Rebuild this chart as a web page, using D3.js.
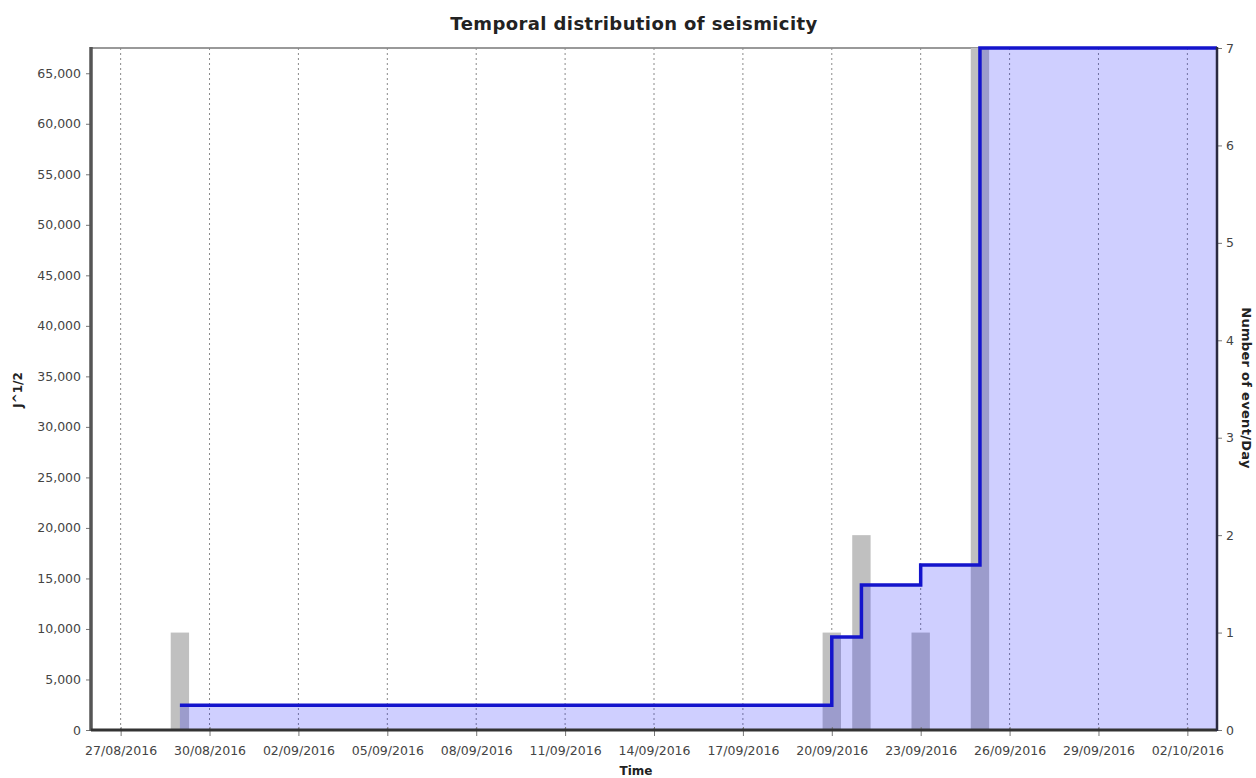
<!DOCTYPE html>
<html>
<head>
<meta charset="utf-8">
<script src="https://cdn.jsdelivr.net/npm/d3@7"></script>
<style>
  html, body { margin: 0; padding: 0; background: #fff; }
  svg { display: block; }
  text { font-family: "DejaVu Sans", sans-serif; }
</style>
</head>
<body>
<svg id="chart" width="1256" height="778"></svg>
<script>
// ---- data ----
const eventDates = ["29/08/2016", "20/09/2016", "21/09/2016", "23/09/2016", "25/09/2016"];
const eventsPerDay = [1, 1, 2, 1, 7];
const cumulativeStrain = [2450, 9200, 14350, 16330, 67500];
const xTickLabels = ["27/08/2016", "30/08/2016", "02/09/2016", "05/09/2016", "08/09/2016",
  "11/09/2016", "14/09/2016", "17/09/2016", "20/09/2016", "23/09/2016", "26/09/2016",
  "29/09/2016", "02/10/2016"];
const xDomainLabels = ["26/08/2016", "03/10/2016"];
const leftTicks = [0, 5000, 10000, 15000, 20000, 25000, 30000, 35000, 40000, 45000, 50000, 55000, 60000, 65000];
const rightTicks = [0, 1, 2, 3, 4, 5, 6, 7];

const parse = d3.timeParse("%d/%m/%Y");
const svg = d3.select("#chart");
const m = { left: 91, right: 1217, top: 48, bottom: 730 };

const x = d3.scaleTime().domain(xDomainLabels.map(parse)).range([m.left, m.right]);
const yL = d3.scaleLinear().domain([0, d3.max(cumulativeStrain)]).range([m.bottom, m.top]);
const yR = d3.scaleLinear().domain([0, d3.max(eventsPerDay)]).range([m.bottom, m.top]);

const dayMs = 864e5;
const events = eventDates.map((d, i) => ({ date: parse(d), n: eventsPerDay[i], s: cumulativeStrain[i] }));

// plot frame (top border)
svg.append("line").attr("x1", m.left).attr("x2", m.right).attr("y1", m.top).attr("y2", m.top)
  .attr("stroke", "#999").attr("stroke-width", 2);

// vertical gridlines
const xTicks = xTickLabels.map(parse);
svg.append("g").selectAll("line").data(xTicks).join("line")
  .attr("x1", d => x(d)).attr("x2", d => x(d))
  .attr("y1", m.top).attr("y2", m.bottom)
  .attr("stroke", "#8a8a8a").attr("stroke-width", 1).attr("stroke-dasharray", "2,3");

// bars (events per day)
svg.append("g").selectAll("rect").data(events).join("rect")
  .attr("x", d => x(new Date(+d.date - 0.31 * dayMs)))
  .attr("width", d => x(new Date(+d.date + 0.31 * dayMs)) - x(new Date(+d.date - 0.31 * dayMs)))
  .attr("y", d => yR(d.n))
  .attr("height", d => yR(0) - yR(d.n))
  .attr("fill", "#c0c0c0");

// cumulative strain (step)
const stepPts = events.map(d => [d.date, d.s]).concat([[x.domain()[1], events[events.length - 1].s]]);
const area = d3.area().curve(d3.curveStepAfter)
  .x(d => x(d[0])).y0(yL(0)).y1(d => yL(d[1]));
const line = d3.line().curve(d3.curveStepAfter)
  .x(d => x(d[0])).y(d => yL(d[1]));

svg.append("path").datum(stepPts).attr("d", area)
  .attr("fill", "rgb(0,0,255)").attr("fill-opacity", 0.19);
svg.append("path").datum(stepPts).attr("d", line)
  .attr("fill", "none").attr("stroke", "#1414cc").attr("stroke-width", 3.5);

// axes
const fmt = d3.format(",");
const gL = svg.append("g").attr("transform", `translate(${m.left},0)`)
  .call(d3.axisLeft(yL).tickValues(leftTicks).tickFormat(fmt).tickSize(5).tickPadding(5));
const gR = svg.append("g").attr("transform", `translate(${m.right},0)`)
  .call(d3.axisRight(yR).tickValues(rightTicks).tickFormat(d3.format("d")).tickSize(5).tickPadding(4));
const gB = svg.append("g").attr("transform", `translate(0,${m.bottom})`)
  .call(d3.axisBottom(x).tickValues(xTicks).tickFormat(d3.timeFormat("%d/%m/%Y")).tickSize(6).tickPadding(10));

[gL, gR, gB].forEach(g => {
  g.selectAll(".domain").remove();
  g.selectAll(".tick line").attr("stroke", "#777");
  g.selectAll(".tick text").attr("fill", "#444").style("font-size", "12.5px")
    .style("font-family", "'DejaVu Sans', sans-serif");
});
gB.selectAll(".tick line").attr("y1", -3);

// axis lines
svg.append("line").attr("x1", m.left).attr("x2", m.left).attr("y1", m.top - 1).attr("y2", m.bottom + 1)
  .attr("stroke", "#555").attr("stroke-width", 3.5);
svg.append("line").attr("x1", m.left).attr("x2", m.right).attr("y1", m.bottom).attr("y2", m.bottom)
  .attr("stroke", "#333").attr("stroke-width", 3);
svg.append("line").attr("x1", m.right).attr("x2", m.right).attr("y1", m.top - 1).attr("y2", m.bottom + 1)
  .attr("stroke", "#2a2a40").attr("stroke-width", 2.5);

// titles
svg.append("text").attr("x", 634).attr("y", 30).attr("text-anchor", "middle")
  .style("font-size", "18px").style("font-weight", "bold").style("letter-spacing", "0.4px").attr("fill", "#222")
  .text("Temporal distribution of seismicity");
svg.append("text").attr("x", 636).attr("y", 775).attr("text-anchor", "middle")
  .style("font-size", "12px").style("font-weight", "bold").attr("fill", "#222")
  .text("Time");
svg.append("text").attr("transform", "translate(22,390) rotate(-90)").attr("text-anchor", "middle")
  .style("font-size", "12px").style("font-weight", "bold").attr("fill", "#222")
  .text("J^1/2");
svg.append("text").attr("transform", "translate(1242,388) rotate(90)").attr("text-anchor", "middle")
  .style("font-size", "13px").style("font-weight", "bold").style("letter-spacing", "0.3px").attr("fill", "#222")
  .text("Number of event/Day");
</script>
</body>
</html>
